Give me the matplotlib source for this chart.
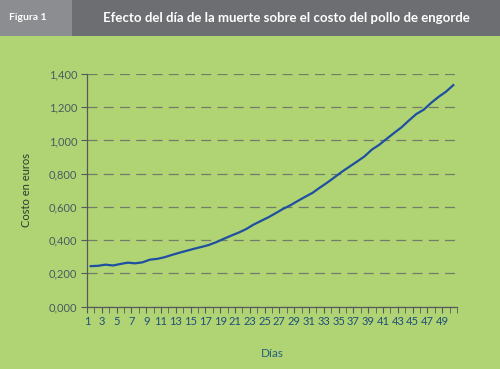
import matplotlib
matplotlib.use("Agg")
import matplotlib.pyplot as plt
from matplotlib.patches import Rectangle

days = list(range(1, 51))
costo = [0.243, 0.245, 0.252, 0.247, 0.256, 0.264, 0.260, 0.266, 0.282, 0.287,
         0.297, 0.311, 0.324, 0.336, 0.348, 0.359, 0.371, 0.388, 0.408, 0.427,
         0.445, 0.466, 0.493, 0.515, 0.537, 0.562, 0.588, 0.610, 0.636, 0.661,
         0.685, 0.717, 0.747, 0.780, 0.813, 0.843, 0.873, 0.904, 0.945, 0.974,
         1.010, 1.045, 1.079, 1.120, 1.159, 1.185, 1.226, 1.262, 1.293, 1.333]
x_labels = [str(d) for d in range(1, 50, 2)]
y_ticks = [0.0, 0.2, 0.4, 0.6, 0.8, 1.0, 1.2, 1.4]

plt.rcParams['font.family'] = ['Lato', 'DejaVu Sans']

BG = "#b0d474"
fig = plt.figure(figsize=(5.0, 3.69), dpi=100, facecolor=BG)

# header band
fig.patches.append(Rectangle((0, 1 - 36/369), 1, 36/369, transform=fig.transFigure,
                             facecolor="#6d6e72", edgecolor="none", zorder=0))
fig.patches.append(Rectangle((0, 1 - 36/369), 72/500, 36/369, transform=fig.transFigure,
                             facecolor="#8c8d90", edgecolor="none", zorder=1))
fig.text(9/500, 1 - 18/369, "Figura 1", color="white", fontsize=7.5, fontweight="bold",
         ha="left", va="center")
fig.text(286/500, 1 - 18/369, "Efecto del día de la muerte sobre el costo del pollo de engorde",
         color="white", fontsize=9.5, fontweight="bold", ha="center", va="center")

ax = fig.add_axes([87/500, 1 - 306.5/369, 370/500, 232.5/369])
ax.set_facecolor(BG)
ax.plot(days, costo, color="#1f4fa0", lw=1.6, zorder=3)

ax.set_xlim(0.5, 50.5)
ax.set_ylim(0, 1.4)
ax.set_yticks(y_ticks)
ax.set_yticklabels([f"{v:.3f}".replace(".", ",") for v in y_ticks])
ax.set_xticks([int(l) - 0.5 for l in x_labels])
ax.set_xticklabels(x_labels)
ax.set_xticks([d - 0.5 for d in range(1, 52)], minor=True)

for s in ["top", "right"]:
    ax.spines[s].set_visible(False)
for s in ["left", "bottom"]:
    ax.spines[s].set_color("#55595c")
    ax.spines[s].set_linewidth(0.9)

ax.yaxis.grid(True, linestyle=(0, (8, 5)), color="#717c6a", linewidth=0.9)
ax.set_axisbelow(True)
ax.tick_params(axis="y", length=4, color="#55595c", labelsize=8, labelcolor="#4a5a60", pad=3)
ax.tick_params(axis="x", which="both", length=4, color="#55595c", direction="out")
ax.tick_params(axis="x", which="major", labelsize=8, labelcolor="#1f4e7a", pad=3)

ax.set_ylabel("Costo en euros", fontsize=8, color="#2c3a30", labelpad=12)
ax.set_xlabel("Días", fontsize=8.5, color="#2b5f7c", labelpad=15)

fig.savefig("out.png", dpi=100, facecolor=BG)
